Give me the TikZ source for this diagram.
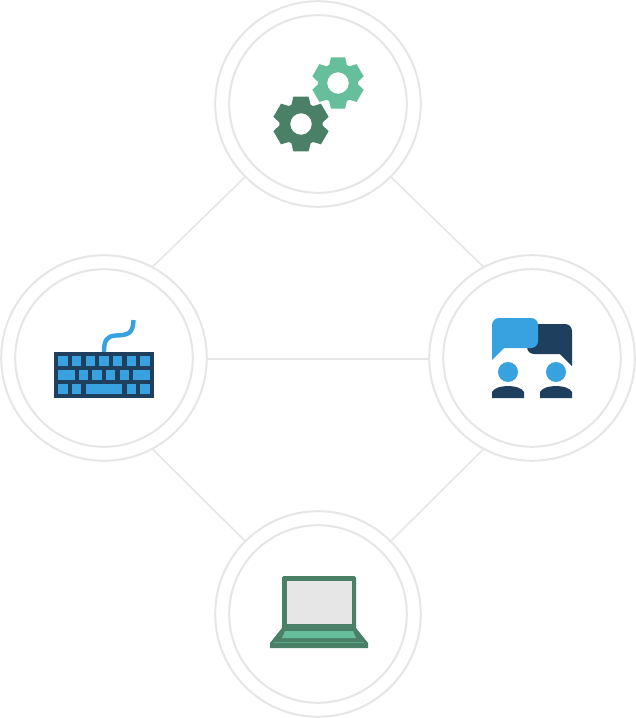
\documentclass[tikz,border=0pt]{standalone}
\definecolor{ring}{HTML}{E6E6E6}
\definecolor{dgreen}{HTML}{4A8066}
\definecolor{lgreen}{HTML}{66BF9A}
\definecolor{lblue}{HTML}{38A1E0}
\definecolor{dblue}{HTML}{1F3F5F}
\tikzset{
  outerring/.style={circle,draw=ring,line width=2pt,fill=white,minimum size=205.6pt,inner sep=0pt,outer sep=0pt},
  innerring/.style={circle,draw=ring,line width=2pt,minimum size=177.6pt,inner sep=0pt,outer sep=0pt},
  link/.style={draw=ring,line width=1.6pt},
  kkey/.style={fill=lblue}
}
\newcommand{\gearshape}[4]{% x, y, outer radius, colour
  \fill[#4,even odd rule] ($(#1,-#2)+(64:#3*0.76)$)
    \foreach \k in {0,60,...,300} {
      -- ($(#1,-#2)+(\k+64:#3*0.76)$)
      -- ($(#1,-#2)+(\k+74.5:#3)$)
      -- ($(#1,-#2)+(\k+105.5:#3)$)
      -- ($(#1,-#2)+(\k+116:#3*0.76)$)
    } -- cycle
    (#1,-#2) circle[radius=10.8];
}
\newcommand{\keyrect}[4]{\fill[kkey] (#1,-#2) rectangle (#3,-#4);}
\usetikzlibrary{calc}
\begin{document}
\begin{tikzpicture}[x=1pt,y=1pt]
\useasboundingbox (0,0) rectangle (636,-718);
\node[outerring] (top) at (318,-104) {};
\node[outerring] (left) at (104,-358) {};
\node[outerring] (right) at (532,-358) {};
\node[outerring] (bottom) at (318,-614) {};
\node[innerring] (topi) at (top.center) {};
\node[innerring] (lefti) at (left.center) {};
\node[innerring] (righti) at (right.center) {};
\node[innerring] (bottomi) at (bottom.center) {};
\draw[link] (top.225) -- (left.62);
\draw[link] (top.-45) -- (right.118);
\draw[link] ([yshift=-1pt]left.east) -- ([yshift=-1pt]right.west);
\draw[link] (left.-62) -- (bottom.135);
\draw[link] (right.-118) -- (bottom.45);
% gears
\gearshape{338}{83}{26.5}{lgreen}
\gearshape{301}{124}{28.5}{dgreen}
% keyboard
\fill[dblue] (54,-352) rectangle (154,-398);
\draw[lblue,line width=4.4pt] (104,-352) .. controls (104,-340) and (107,-336) .. (116,-335.5)
  .. controls (128,-335) and (133,-334) .. (133.5,-320);
\foreach \x in {58.3,72,85.7,99.3,113,126.7,140.3} {\keyrect{\x}{356.3}{\x+9.4}{366}}
\keyrect{58.3}{370.3}{74.7}{380}
\foreach \x in {79,92.3,106,119.7} {\keyrect{\x}{370.3}{\x+9.4}{380}}
\keyrect{133.3}{370.3}{149.7}{380}
\foreach \x in {58.3,72,126.7,140.3} {\keyrect{\x}{384}{\x+9.4}{393.7}}
\keyrect{85.7}{384}{122.3}{393.7}
% chat
\fill[dblue] (526,-324) -- (565,-324) arc[start angle=90,end angle=0,radius=7] -- (572,-366) -- (560,-354) -- (534,-354) arc[start angle=270,end angle=180,radius=7] -- cycle;
\fill[lblue] (499,-318) -- (531,-318) arc[start angle=90,end angle=0,radius=7] -- (538,-341) arc[start angle=0,end angle=-90,radius=7] -- (504,-348) -- (492,-360) -- (492,-325) arc[start angle=180,end angle=90,radius=7] -- cycle;
\fill[lblue] (508,-372) circle[radius=10];
\fill[lblue] (556,-372) circle[radius=10];
\fill[dblue] (492,-398) -- (492,-392) .. controls (494,-388) and (501,-386) .. (508,-386) .. controls (515,-386) and (522,-388) .. (524,-392) -- (524,-398) -- cycle;
\fill[dblue] (540,-398) -- (540,-392) .. controls (542,-388) and (549,-386) .. (556,-386) .. controls (563,-386) and (570,-388) .. (572,-392) -- (572,-398) -- cycle;
% laptop
\fill[dgreen,rounded corners=1.5pt] (282,-630) -- (282,-576) -- (356,-576) -- (356,-630) -- cycle;
\fill[ring] (286.7,-580.7) rectangle (352,-624);
\fill[dgreen] (282,-628) -- (356,-628) -- (368,-643) -- (368,-648) -- (270,-648) -- (270,-643) -- cycle;
\fill[lgreen] (285,-631) -- (353,-631) -- (356,-638) -- (282,-638) -- cycle;
\fill[lgreen!60!dgreen] (274,-642) -- (364,-642) -- (364.5,-643) -- (273.5,-643) -- cycle;
\end{tikzpicture}
\end{document}
